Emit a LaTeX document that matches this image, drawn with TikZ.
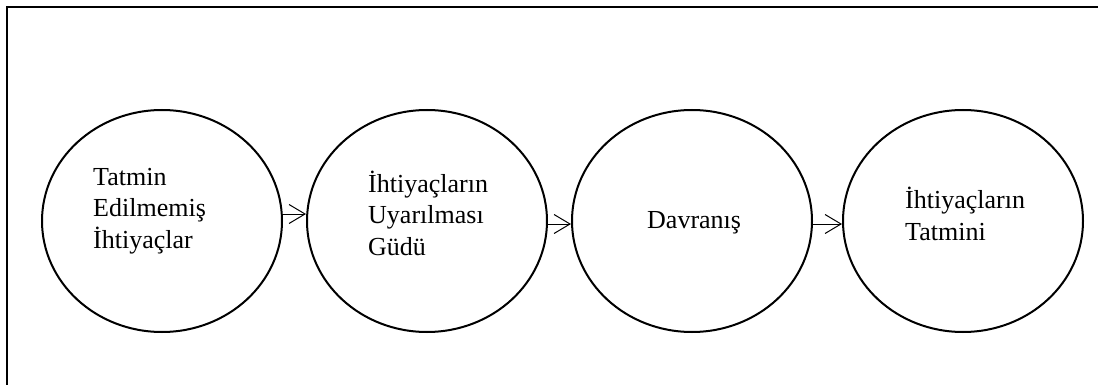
\documentclass[tikz,border=0pt]{standalone}
\usepackage{fontspec}
\setmainfont{Liberation Serif}
\usetikzlibrary{shapes.geometric,arrows.meta}
\tikzset{
  bubble/.style={ellipse, draw, line width=2pt, minimum width=240pt, minimum height=222pt, inner sep=0pt},
  label text/.style={anchor=base west, align=left, inner sep=0pt, font=\fontsize{26pt}{31.5pt}\selectfont},
  arr/.style={line width=1pt, -{Straight Barb[length=16pt,width=19pt,line width=1pt]}},
  frame/.style={line width=2.5pt}
}
\begin{document}
\begin{tikzpicture}[x=1pt,y=-1pt]
\useasboundingbox (0,0) rectangle (1098,385);
\clip (0,0) rectangle (1098,385);
\draw[frame] (7,7) rectangle (1110,400);
\node[bubble] (e1) at (162,221) {};
\node[bubble] (e2) at (427,221) {};
\node[bubble] (e3) at (692,221) {};
\node[bubble] (e4) at (963,221) {};
\node[label text] (t1) at (93,248) {Tatmin\\Edilmemiş\\İhtiyaçlar};
\node[label text] (t2) at (368,255) {İhtiyaçların\\Uyarılması\\Güdü};
\node[label text] (t3) at (647,228) {Davranış};
\node[label text] (t4) at (905,240) {İhtiyaçların\\Tatmini};
\draw[arr] ([yshift=7pt]e1.east) -- ([yshift=7pt]e2.west);
\draw[arr] ([yshift=-3pt]e2.east) -- ([yshift=-3pt]e3.west);
\draw[arr] ([yshift=-3pt]e3.east) -- ([yshift=-3pt]e4.west);
\end{tikzpicture}
\end{document}
